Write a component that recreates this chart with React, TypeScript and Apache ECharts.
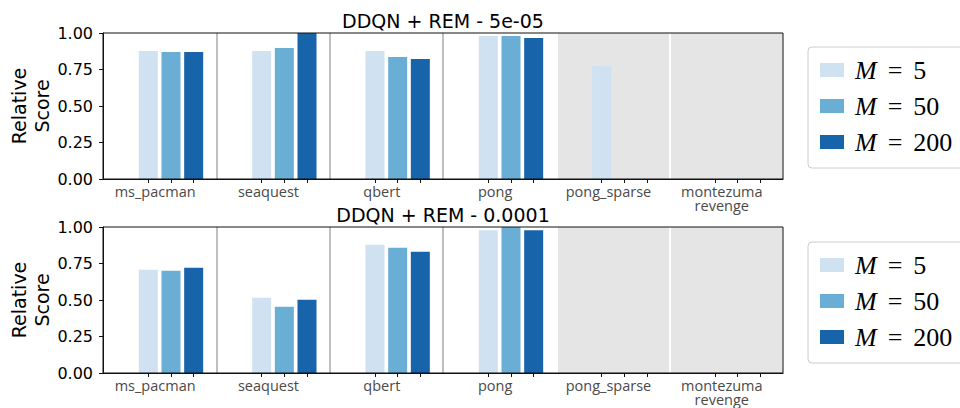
import React, { useEffect, useRef } from "react";
import * as echarts from "echarts";

// Atari games (x categories)
const games = ["ms_pacman", "seaquest", "qbert", "pong", "pong_sparse", "montezuma\nrevenge"];
// Ensemble sizes M
const ensembleSizes = [5, 50, 200];
const panelTitles = ["DDQN + REM - 5e-05", "DDQN + REM - 0.0001"];
const yTicks = [0, 0.25, 0.5, 0.75, 1.0];

// Relative score, learning rate 5e-05
const lr5e5_M5 = [0.877, 0.877, 0.877, 0.979, 0.774, 0];
const lr5e5_M50 = [0.87, 0.897, 0.836, 0.979, 0, 0];
const lr5e5_M200 = [0.87, 1.0, 0.822, 0.966, 0, 0];

// Relative score, learning rate 0.0001
const lr1e4_M5 = [0.708, 0.516, 0.879, 0.978, 0, 0];
const lr1e4_M50 = [0.7, 0.454, 0.858, 1.0, 0, 0];
const lr1e4_M200 = [0.721, 0.502, 0.831, 0.978, 0, 0];

const panels = [
  [lr5e5_M5, lr5e5_M50, lr5e5_M200],
  [lr1e4_M5, lr1e4_M50, lr1e4_M200],
];

const colors = ["#d0e1f2", "#6aaed6", "#1764ab"];

// Sparse-reward games are shaded
const shadedFrom = 4;

const GRID_LEFT = 103;
const GRID_RIGHT = 177;
const GRID_H = 146;
const GRID_TOPS = [33, 227];
const LEGEND_TOPS = [47, 242];
const TITLE_TOPS = [11, 205];

const barOffset = (j: number) => 0.4 + 0.2 * j;

export default function App() {
  const ref = useRef<HTMLDivElement>(null);

  useEffect(() => {
    if (!ref.current) return;
    const chart = echarts.init(ref.current, null, { renderer: "svg" });

    const tickValues: number[] = [];
    games.forEach((_, i) => ensembleSizes.forEach((_, j) => tickValues.push(i + barOffset(j))));
    const labelValues = games.map((_, i) => i + 0.46);

    const grid = GRID_TOPS.map((top) => ({
      left: GRID_LEFT,
      right: GRID_RIGHT,
      top,
      height: GRID_H,
      outerBoundsMode: "none",
      containLabel: false,
      show: true,
      borderColor: "#111",
      borderWidth: 1,
      backgroundColor: "transparent",
      z: 6,
    }));

    const xAxis = GRID_TOPS.map((_, p) => ({
      type: "value",
      gridIndex: p,
      min: 0,
      max: games.length,
      axisLine: { show: true, onZero: false, lineStyle: { color: "#111", width: 1 } },
      axisTick: {
        show: true,
        customValues: tickValues,
        length: 4,
        lineStyle: { color: "#111", width: 1 },
      },
      axisLabel: {
        show: true,
        customValues: labelValues,
        formatter: (v: number) => games[Math.floor(v)] ?? "",
        fontFamily: "Open Sans",
        fontSize: 14.5,
        lineHeight: 14,
        color: "#4a4a4a",
        margin: 5,
      },
      splitLine: { show: false },
    }));

    const yAxis = GRID_TOPS.map((_, p) => ({
      type: "value",
      gridIndex: p,
      min: 0,
      max: 1,
      interval: 0.25,
      name: "Relative\nScore",
      nameLocation: "middle",
      nameRotate: 90,
      nameGap: 50,
      nameMoveOverlap: false,
      nameTextStyle: {
        fontFamily: "DejaVu Sans",
        fontSize: 19,
        lineHeight: 23,
        color: "#000",
      },
      axisLine: { show: true, lineStyle: { color: "#111", width: 1 } },
      axisTick: { show: true, length: 4, lineStyle: { color: "#111", width: 1 } },
      axisLabel: {
        fontFamily: "DejaVu Sans",
        fontSize: 16,
        color: "#000",
        margin: 10,
        formatter: (v: number) => (yTicks.includes(v) ? v.toFixed(2) : ""),
      },
      splitLine: { show: false },
    }));

    const series: any[] = [];
    panels.forEach((panel, p) => {
      panel.forEach((values, j) => {
        const s: any = {
          type: "bar",
          name: `M = ${ensembleSizes[j]}`,
          xAxisIndex: p,
          yAxisIndex: p,
          barWidth: 19,
          barGap: "-100%",
          z: 2,
          itemStyle: { color: colors[j] },
          data: values.map((v, i) => [i + barOffset(j), v]),
        };
        if (j === 0) {
          s.markArea = {
            silent: true,
            itemStyle: { color: "#e5e5e5" },
            data: [[{ xAxis: shadedFrom }, { xAxis: games.length }]],
          };
          const seps: any[] = [];
          for (let k = 1; k < games.length; k++) {
            seps.push({
              xAxis: k,
              lineStyle: { color: k >= shadedFrom ? "#ffffff" : "#bfbfbf", width: 2, type: "solid" },
            });
          }
          s.markLine = {
            silent: true,
            symbol: ["none", "none"],
            label: { show: false },
            data: seps,
          };
        }
        series.push(s);
      });
    });

    const legend = LEGEND_TOPS.map((top) => ({
      orient: "vertical",
      left: 808,
      top,
      padding: [10, 16, 13, 12],
      itemGap: 10,
      itemWidth: 24,
      itemHeight: 14,
      icon: "rect",
      selectedMode: false,
      backgroundColor: "#fff",
      borderColor: "#cccccc",
      borderWidth: 1,
      borderRadius: 4,
      data: ensembleSizes.map((m) => `M = ${m}`),
      formatter: (name: string) => `{m|M}{e|=}{n|${name.split("= ")[1]}}`,
      textStyle: {
        color: "#000",
        rich: {
          m: {
            fontFamily: "Liberation Serif",
            fontStyle: "italic",
            fontSize: 26,
            lineHeight: 24,
            padding: [0, 0, 0, 6],
            color: "#000",
          },
          e: {
            fontFamily: "Liberation Serif",
            fontSize: 26,
            lineHeight: 24,
            padding: [0, 11, 0, 11],
            color: "#000",
          },
          n: {
            fontFamily: "Liberation Serif",
            fontSize: 26,
            lineHeight: 24,
            color: "#000",
          },
        },
      },
    }));

    const title = panelTitles.map((text, p) => ({
      text,
      left: GRID_LEFT + (960 - GRID_LEFT - GRID_RIGHT) / 2,
      textAlign: "center",
      top: TITLE_TOPS[p],
      padding: 0,
      textStyle: {
        fontFamily: "DejaVu Sans",
        fontSize: 19,
        fontWeight: "normal",
        lineHeight: 20,
        color: "#000",
      },
    }));

    chart.setOption({
      animation: false,
      backgroundColor: "#fff",
      title,
      legend,
      grid,
      xAxis,
      yAxis,
      series,
    });

    return () => chart.dispose();
  }, []);

  return (
    <div
      ref={ref}
      style={{ position: "fixed", left: 0, top: 0, width: 960, height: 408 }}
    />
  );
}
